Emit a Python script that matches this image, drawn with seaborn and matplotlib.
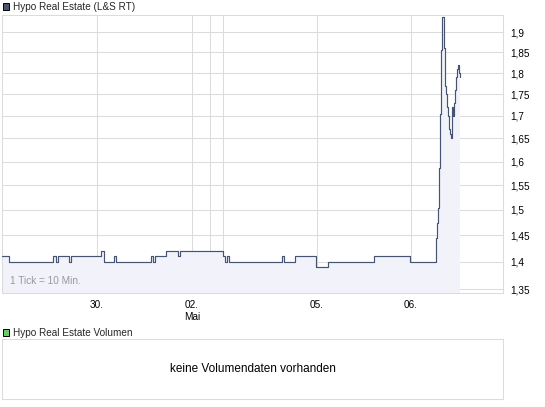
import matplotlib
matplotlib.use('Agg')
import matplotlib.pyplot as plt
import matplotlib.patches as mpatches
import matplotlib.ticker as mticker
import seaborn as sns
import pandas as pd

# Kursdaten (Position in 10-Min-Ticks ab Start, Kurs in EUR)
pos = [0, 7, 51, 54, 56, 67, 69, 99, 102, 112, 114, 149, 151, 153, 164, 176, 178,
       221, 223, 225, 227, 280, 282, 293, 314, 326, 372, 408,
       434, 435, 436, 437, 438, 439, 440, 441, 442, 443, 444, 445, 446, 447, 448,
       449, 450, 451, 452, 453, 454, 455, 456, 457, 458]
price = [1.41, 1.40, 1.41, 1.40, 1.41, 1.40, 1.41, 1.42, 1.40, 1.41, 1.40, 1.41, 1.40, 1.41, 1.42, 1.41, 1.42,
         1.41, 1.40, 1.41, 1.40, 1.41, 1.40, 1.41, 1.39, 1.40, 1.41, 1.40,
         1.445, 1.474, 1.503, 1.586, 1.704, 1.855, 1.94, 1.94, 1.86, 1.77, 1.75, 1.72, 1.70,
         1.67, 1.66, 1.65, 1.72, 1.70, 1.73, 1.76, 1.79, 1.81, 1.82, 1.80, 1.79]

date_pos = [95, 190, 208, 221, 315, 409]
date_labels = ['30.', '02.\nMai', '', '', '05.', '06.']
y_ticks = [1.35, 1.4, 1.45, 1.5, 1.55, 1.6, 1.65, 1.7, 1.75, 1.8, 1.85, 1.9]

df = pd.DataFrame({'pos': pos, 'price': price})

sns.set_theme(style='white')
plt.rcParams['font.family'] = ['Liberation Sans', 'DejaVu Sans']

grid_col = '#DCDCDC'
line_col = '#465472'

fig = plt.figure(figsize=(5.45, 4.07), dpi=100)
W, H = 545, 407

ax = fig.add_axes([2 / W, 1 - 293 / H, 501 / W, (293 - 14.5) / H])
ax.fill_between(df['pos'], df['price'], 1.3, step='post', color='#F2F3FA', lw=0, zorder=1)
sns.lineplot(data=df, x='pos', y='price', ax=ax, color=line_col, lw=0.85,
             drawstyle='steps-post', zorder=3)

ax.set_yscale('log')
ax.set_ylim(1.343, 1.946)
ax.set_xlim(0, 501)
ax.yaxis.set_major_locator(mticker.FixedLocator(y_ticks))
ax.yaxis.set_minor_locator(mticker.NullLocator())
ax.yaxis.set_major_formatter(mticker.FuncFormatter(lambda v, p: f'{v:g}'.replace('.', ',')))
ax.yaxis.tick_right()
ax.set_xticks(date_pos)
ax.set_xticklabels(date_labels)
ax.tick_params(axis='y', length=0, pad=5, labelsize=7.2, colors='black')
ax.tick_params(axis='x', length=2, width=0.75, color=grid_col, pad=3, labelsize=7.2, colors='black')
ax.grid(True, color=grid_col, lw=0.75)
ax.set_axisbelow(True)
for s in ax.spines.values():
    s.set_color(grid_col)
    s.set_linewidth(0.75)
ax.set_xlabel('')
ax.set_ylabel('')
ax.text(8 / 501, 0.025, '1 Tick = 10 Min.', transform=ax.transAxes, fontsize=7.2,
        color='#999999', va='bottom', ha='left')

# Volumen-Panel
vax = fig.add_axes([2 / W, 1 - 399 / H, 501 / W, 60 / H])
vax.set_xticks([])
vax.set_yticks([])
for s in vax.spines.values():
    s.set_color(grid_col)
    s.set_linewidth(0.75)
vax.text(0.5, 0.5, 'keine Volumendaten vorhanden', transform=vax.transAxes,
         ha='center', va='center', fontsize=8.5, color='black')

# Legenden oben
fig.patches.append(mpatches.Rectangle((3 / W, 1 - 10 / H), 6 / W, 7 / H, transform=fig.transFigure,
                                      facecolor='#4A5570', edgecolor='black', lw=0.7))
fig.text(13 / W, 1 - 6.5 / H, 'Hypo Real Estate (L&S RT)', fontsize=7.2, va='center', ha='left')
fig.patches.append(mpatches.Rectangle((3 / W, 1 - 336 / H), 6 / W, 7 / H, transform=fig.transFigure,
                                      facecolor='#66CC66', edgecolor='black', lw=0.7))
fig.text(13 / W, 1 - 332.5 / H, 'Hypo Real Estate Volumen', fontsize=7.2, va='center', ha='left')

fig.savefig('out.png', dpi=100)
